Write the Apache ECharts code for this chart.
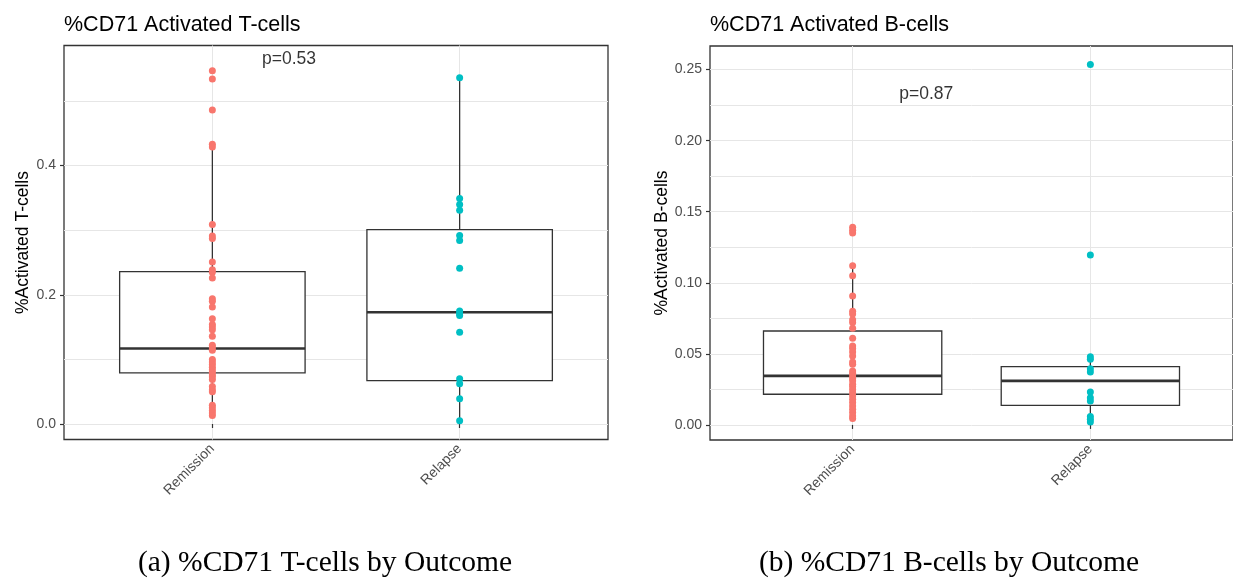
<!DOCTYPE html>
<html>
  <head>
    <meta charset="utf-8">
    <title>CD71 by outcome</title>
    <style type="text/css">
    html, body {margin:0; padding:0; background:#fff;}
    #chart {width:1233px; height:579px;}
    </style>
    <script src="https://cdn.jsdelivr.net/npm/echarts@6/dist/echarts.min.js"></script>
  </head>
  <body>
    <div id="chart"></div>
    <script type="text/javascript">
      // categories and values
      var categories = ['Remission', 'Relapse'];
      var tRemission = [0.547, 0.534, 0.486, 0.433, 0.429, 0.309, 0.291, 0.287, 0.251, 0.239, 0.235, 0.226,
                        0.194, 0.190, 0.181, 0.163, 0.154, 0.150, 0.146, 0.136, 0.122, 0.118, 0.114, 0.100,
                        0.096, 0.092, 0.088, 0.084, 0.080, 0.076, 0.073, 0.069, 0.058, 0.053, 0.050, 0.029,
                        0.025, 0.021, 0.017, 0.013];
      var tRelapse = [0.536, 0.349, 0.340, 0.331, 0.292, 0.284, 0.241, 0.175, 0.171, 0.168, 0.142, 0.070,
                      0.0625, 0.039, 0.005];
      var bRemission = [0.139, 0.137, 0.135, 0.112, 0.105, 0.0907, 0.080, 0.078, 0.074, 0.072, 0.068, 0.061,
                        0.0556, 0.0537, 0.0513, 0.0485, 0.0443, 0.0427, 0.038, 0.0363, 0.0345, 0.0326, 0.031,
                        0.0286, 0.027, 0.025, 0.0227, 0.0204, 0.018, 0.0157, 0.0134, 0.011, 0.0087, 0.0063, 0.0045];
      var bRelapse = [0.2536, 0.1195, 0.048, 0.0462, 0.0396, 0.0373, 0.0232, 0.0192, 0.0169, 0.0059, 0.004, 0.0021];
      // [x, lower whisker, Q1, median, Q3, upper whisker]
      var tBoxes = [[1, 0.013, 0.079, 0.117, 0.236, 0.433], [2, 0.005, 0.067, 0.173, 0.301, 0.536]];
      var bBoxes = [[1, 0.0045, 0.0216, 0.0345, 0.0661, 0.112], [2, 0.0021, 0.0138, 0.031, 0.041, 0.048]];
      var tTicks = [0, 0.2, 0.4];
      var tGridLines = [0, 0.1, 0.2, 0.3, 0.4, 0.5];
      var bTicks = [0, 0.05, 0.10, 0.15, 0.20, 0.25];
      var bGridLines = [0, 0.025, 0.05, 0.075, 0.10, 0.125, 0.15, 0.175, 0.20, 0.225, 0.25];
      var pTexts = ['p=0.53', 'p=0.87'];
      var pPos = [[1.31, 0.565], [1.31, 0.233]];

      var myChart = echarts.init(document.getElementById('chart'));
      var sans = '"Liberation Sans", Arial, sans-serif';
      var cols = ['#F8766D', '#00BFC4'];

      function xAxisFor(gi) {
        return {
          type: 'value', gridIndex: gi, min: 0.4, max: 2.6,
          axisLine: {show: false},
          axisTick: {show: true, customValues: [1, 2], length: 4, lineStyle: {color: '#333', width: 1.2}},
          axisLabel: {customValues: [1, 2], rotate: 45, margin: 7, color: '#4d4d4d', fontSize: 14, fontFamily: sans,
                      formatter: function (v) { return categories[Math.round(v) - 1]; }},
          splitLine: {show: true, lineStyle: {color: '#e6e6e6', width: 1}}
        };
      }
      function yGridAxis(gi, lo, hi, lines) {
        return {
          type: 'value', gridIndex: gi, min: lo, max: hi, position: 'right',
          axisLine: {show: false},
          axisTick: {show: false, customValues: lines},
          axisLabel: {show: false},
          splitLine: {show: true, lineStyle: {color: '#e6e6e6', width: 1}}
        };
      }
      function yLabelAxis(gi, lo, hi, ticks, digits, name) {
        return {
          type: 'value', gridIndex: gi, min: lo, max: hi, position: 'left',
          name: name, nameLocation: 'middle', nameGap: 31, nameRotate: 90,
          nameTextStyle: {color: '#000', fontSize: 17.5, fontFamily: sans},
          axisLine: {show: false},
          axisTick: {show: true, customValues: ticks, length: 4, lineStyle: {color: '#333', width: 1.2}},
          axisLabel: {customValues: ticks, margin: 8, color: '#4d4d4d', fontSize: 14, fontFamily: sans,
                      formatter: function (v) { return v.toFixed(digits); }},
          splitLine: {show: false}
        };
      }
      function renderBox(params, api) {
        var x = api.value(0), half = 0.375;
        var lo = api.value(1), q1 = api.value(2), med = api.value(3), q3 = api.value(4), hi = api.value(5);
        var tl = api.coord([x - half, q3]), br = api.coord([x + half, q1]);
        var ml = api.coord([x - half, med]), mr = api.coord([x + half, med]);
        var pHi = api.coord([x, hi]), pQ3 = api.coord([x, q3]), pQ1 = api.coord([x, q1]), pLo = api.coord([x, lo]);
        var ls = {stroke: '#333', lineWidth: 1.3};
        return {type: 'group', children: [
          {type: 'line', shape: {x1: pHi[0], y1: pHi[1], x2: pQ3[0], y2: pQ3[1]}, style: ls},
          {type: 'line', shape: {x1: pQ1[0], y1: pQ1[1], x2: pLo[0], y2: pLo[1]}, style: ls},
          {type: 'rect', shape: {x: tl[0], y: tl[1], width: br[0] - tl[0], height: br[1] - tl[1]},
           style: {fill: '#fff', stroke: '#333', lineWidth: 1.3}},
          {type: 'line', shape: {x1: ml[0], y1: ml[1], x2: mr[0], y2: mr[1]}, style: {stroke: '#333', lineWidth: 2.6}}
        ]};
      }
      function pts(arr, x) { return arr.map(function (v) { return [x, v]; }); }
      function boxSeries(gi, data) {
        return {type: 'custom', xAxisIndex: gi, yAxisIndex: gi * 2 + 1, renderItem: renderBox,
                encode: {x: 0, y: [1, 2, 3, 4, 5]}, data: data, silent: true};
      }
      function dotSeries(gi, data, color) {
        return {type: 'scatter', xAxisIndex: gi, yAxisIndex: gi * 2 + 1, symbolSize: 7,
                itemStyle: {color: color, opacity: 1}, data: data, silent: true};
      }
      function pSeries(gi) {
        return {type: 'scatter', xAxisIndex: gi, yAxisIndex: gi * 2 + 1, symbolSize: 1,
                itemStyle: {color: 'transparent'}, silent: true, data: [pPos[gi]],
                label: {show: true, position: 'inside', formatter: pTexts[gi], color: '#000',
                        fontSize: 17.5, fontFamily: sans}};
      }

      var option = {
        animation: false,
        backgroundColor: '#fff',
        grid: [
          {left: 64, top: 45.5, width: 544, height: 394, show: true, borderColor: '#333', borderWidth: 1.3, backgroundColor: '#fff'},
          {left: 710, top: 46, width: 537, height: 394, show: true, borderColor: '#333', borderWidth: 1.3, backgroundColor: '#fff'}
        ],
        xAxis: [xAxisFor(0), xAxisFor(1)],
        yAxis: [
          yGridAxis(0, -0.024, 0.586, tGridLines),
          yLabelAxis(0, -0.024, 0.586, tTicks, 1, '%Activated T-cells'),
          yGridAxis(1, -0.0106, 0.2666, bGridLines),
          yLabelAxis(1, -0.0106, 0.2666, bTicks, 2, '%Activated B-cells')
        ],
        graphic: [
          {type: 'text', x: 64, y: 25, style: {text: '%CD71 Activated T-cells', fill: '#000', fontSize: 21.5, fontFamily: sans, verticalAlign: 'middle'}},
          {type: 'text', x: 710, y: 25, style: {text: '%CD71 Activated B-cells', fill: '#000', fontSize: 21.5, fontFamily: sans, verticalAlign: 'middle'}},
          {type: 'text', x: 325, y: 563, style: {text: '(a) %CD71 T-cells by Outcome', fill: '#000', fontSize: 29.5, fontFamily: '"Liberation Serif", serif', align: 'center', verticalAlign: 'middle'}},
          {type: 'text', x: 949, y: 563, style: {text: '(b) %CD71 B-cells by Outcome', fill: '#000', fontSize: 29.5, fontFamily: '"Liberation Serif", serif', align: 'center', verticalAlign: 'middle'}}
        ],
        series: [
          boxSeries(0, tBoxes),
          dotSeries(0, pts(tRemission, 1), cols[0]),
          dotSeries(0, pts(tRelapse, 2), cols[1]),
          pSeries(0),
          boxSeries(1, bBoxes),
          dotSeries(1, pts(bRemission, 1), cols[0]),
          dotSeries(1, pts(bRelapse, 2), cols[1]),
          pSeries(1)
        ]
      };
      myChart.setOption(option);
    </script>
  </body>
</html>
